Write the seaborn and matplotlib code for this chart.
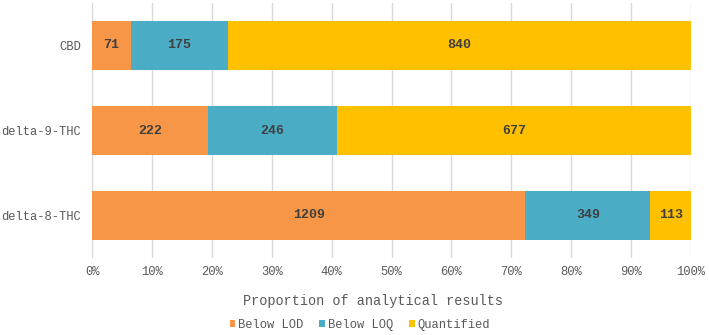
import matplotlib
matplotlib.use("Agg")
import matplotlib.pyplot as plt
import seaborn as sns
import pandas as pd
import numpy as np
from matplotlib.patches import Patch
from matplotlib.ticker import PercentFormatter

categories = ["CBD", "delta-9-THC", "delta-8-THC"]
below_lod = [71, 222, 1209]
below_loq = [175, 246, 349]
quantified = [840, 677, 113]
series_names = ["Below LOD", "Below LOQ", "Quantified"]
colors = ["#F79646", "#4BACC6", "#FFC000"]

sns.set_theme(style="white")
plt.rcParams["font.family"] = ["Liberation Mono", "DejaVu Sans Mono"]

counts = np.array([below_lod, below_loq, quantified], dtype=float)
totals = counts.sum(axis=0)
shares = counts / totals * 100
cum = np.cumsum(shares, axis=0)

df = pd.DataFrame({"category": categories})
for i, name in enumerate(series_names):
    df[name + "_cum"] = cum[i]

fig = plt.figure(figsize=(7.09, 3.35), dpi=100)
ax = fig.add_axes([92 / 709, 77 / 335, 599 / 709, 255 / 335])

# stacked bars: draw cumulative shares from the longest down
for i in reversed(range(len(series_names))):
    sns.barplot(data=df, y="category", x=series_names[i] + "_cum", order=categories,
                color=colors[i], saturation=1, width=0.57, orient="h", ax=ax,
                edgecolor="none", linewidth=0, zorder=2)

# count labels in the middle of each segment
starts = np.vstack([np.zeros(len(categories)), cum[:-1]])
for i in range(len(series_names)):
    for j in range(len(categories)):
        ax.text(starts[i, j] + shares[i, j] / 2, j, f"{int(counts[i, j])}",
                ha="center", va="center", fontsize=9.5, fontweight="bold",
                color="#404040", zorder=3)

ax.set_xlim(0, 100)
ax.set_ylim(2.5, -0.5)
ax.set_xticks(np.arange(0, 101, 10))
ax.xaxis.set_major_formatter(PercentFormatter(decimals=0))
ax.grid(axis="x", color="#D9D9D9", linewidth=1, zorder=0)
ax.grid(axis="y", visible=False)
ax.set_axisbelow(True)
for s in ax.spines.values():
    s.set_visible(False)
ax.tick_params(axis="both", length=0, colors="#595959", labelsize=8.75)
ax.tick_params(axis="x", pad=6)
ax.tick_params(axis="y", pad=8)
ax.set_ylabel("")
ax.set_xlabel("")

fig.text(373 / 709, 1 - 301 / 335, "Proportion of analytical results", ha="center", va="center",
         fontsize=9.75, color="#595959")

handles = [Patch(facecolor=c, edgecolor="none", label=n) for n, c in zip(series_names, colors)]
leg = fig.legend(handles=handles, loc="center", bbox_to_anchor=(360 / 709, 1 - 325 / 335), ncol=3,
                 frameon=False, fontsize=8.75, handlelength=0.45, handleheight=0.45,
                 handletextpad=0.25, columnspacing=1.3, labelcolor="#595959",
                 borderpad=0, borderaxespad=0)

fig.savefig("out.png", dpi=100)
